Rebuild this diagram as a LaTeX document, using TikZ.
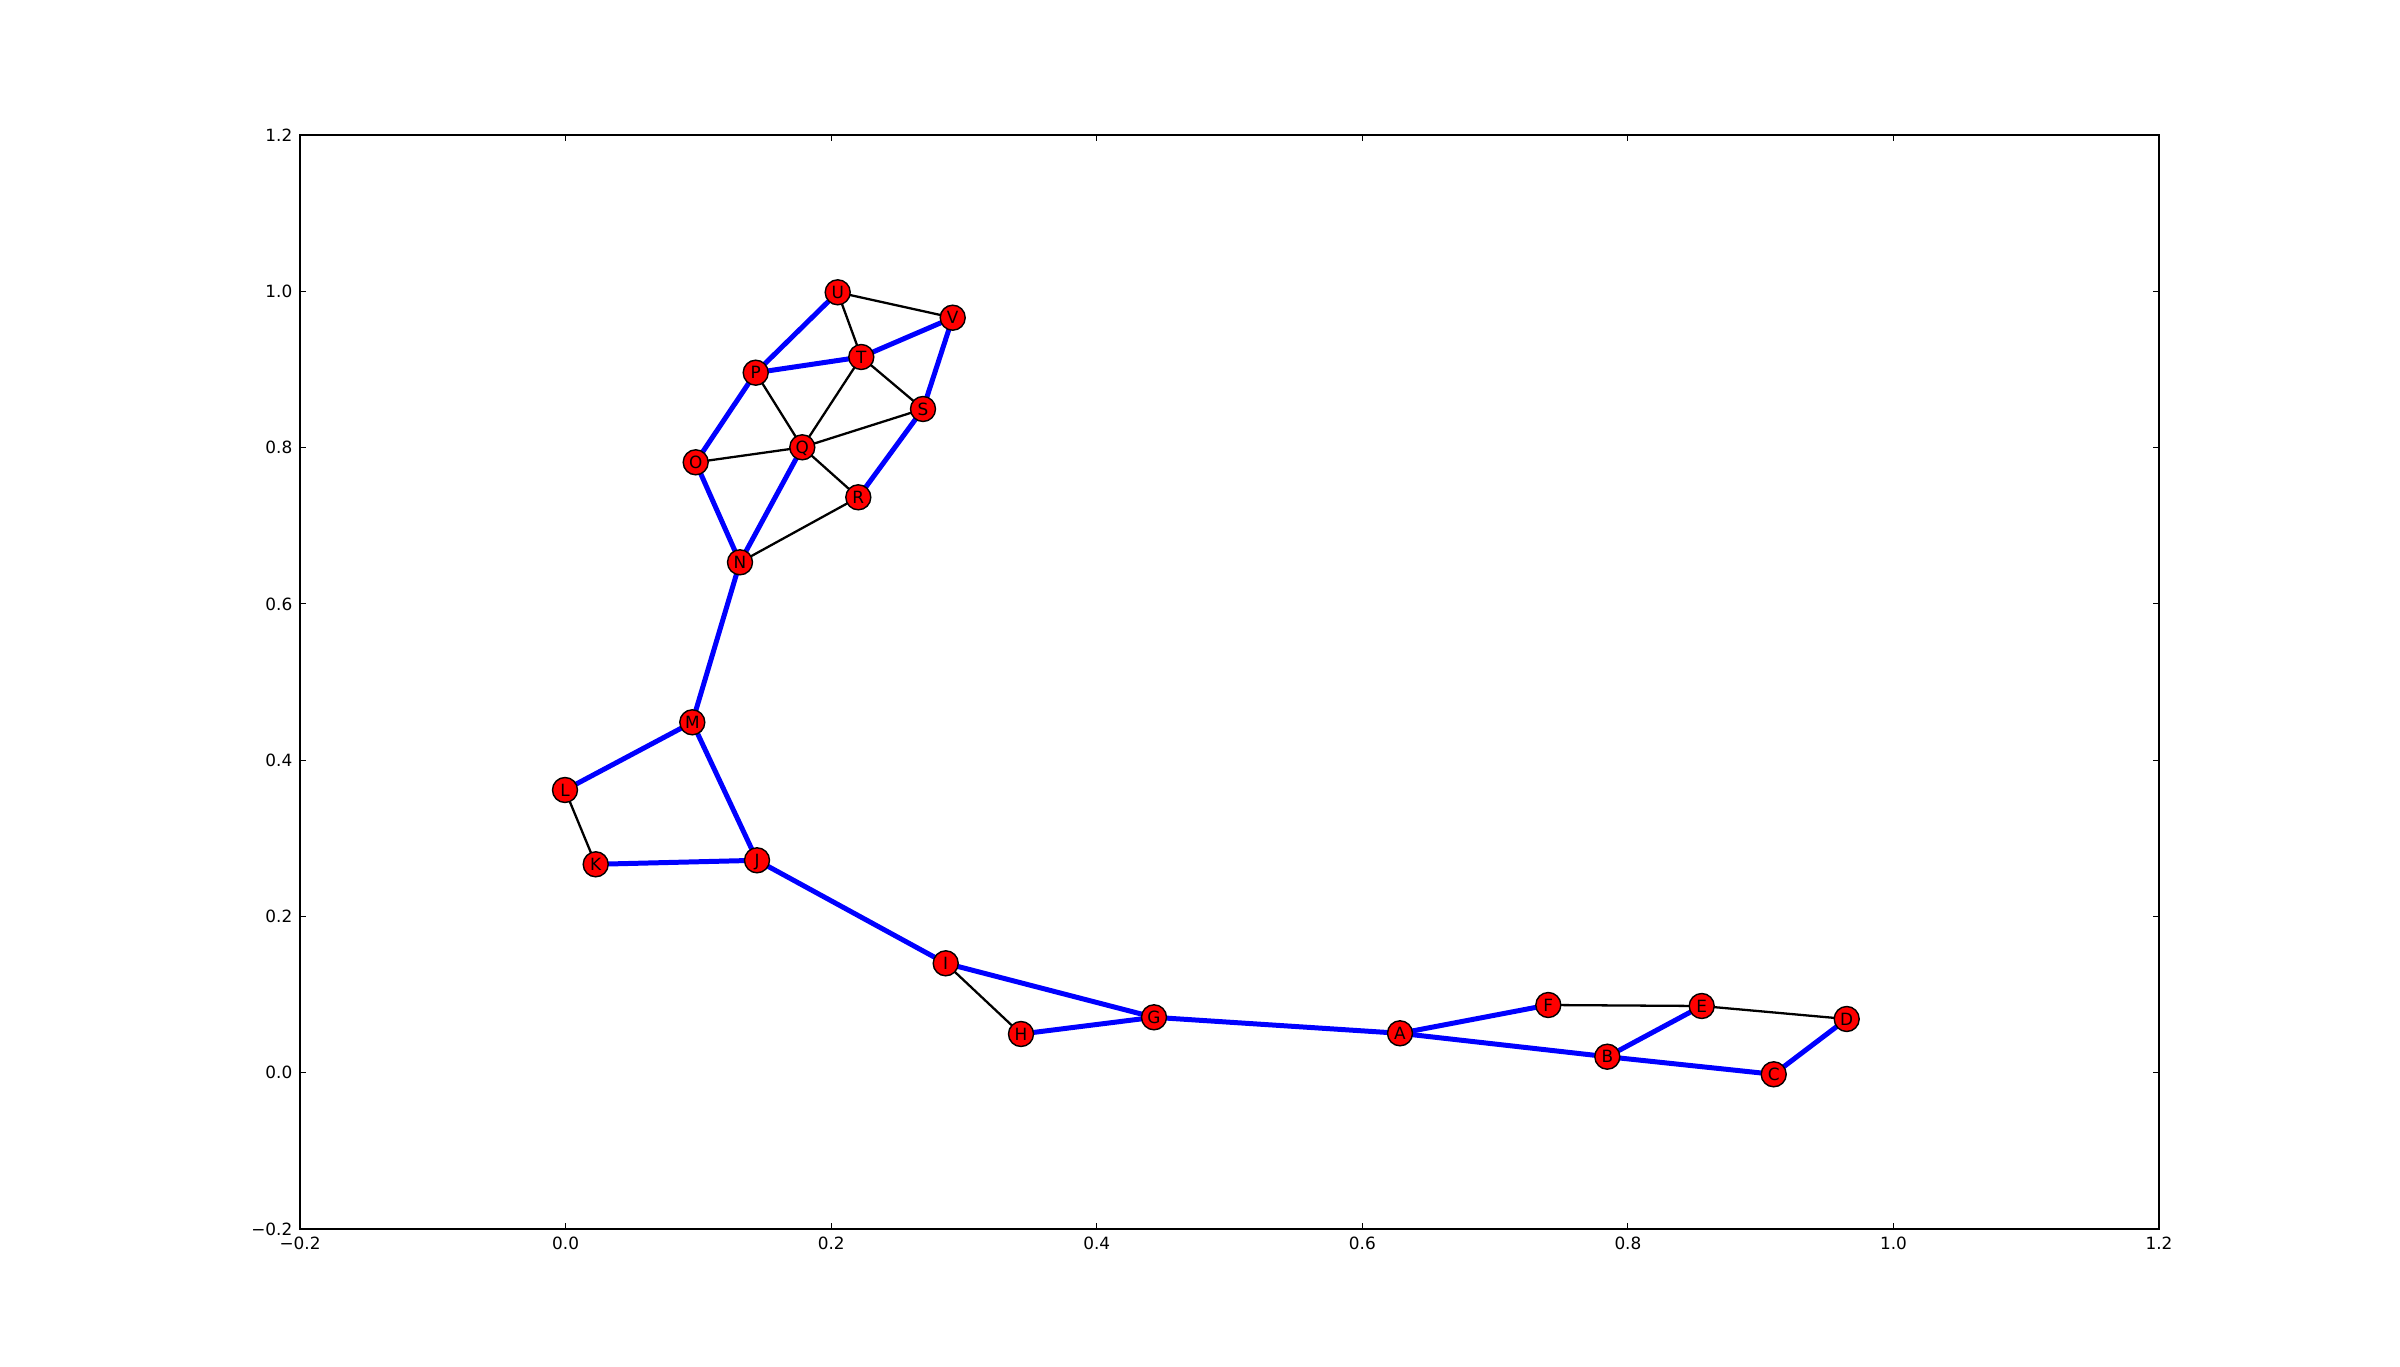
\documentclass[tikz,border=0pt]{standalone}
\usepackage{fontspec}
\setmainfont{DejaVu Sans}
\begin{document}
\begin{tikzpicture}[x=0.01cm,y=-0.01cm,
  vtx/.style={circle,draw=black,line width=0.4pt,fill=red,minimum size=0.25cm,inner sep=0pt,
    font=\fontsize{4.8}{5.8}\selectfont,text height=0.123cm,text depth=0pt},
  tree/.style={draw=blue,line width=1.42pt},
  other/.style={draw=black,line width=0.65pt},
  ticklab/.style={inner sep=0pt,font=\fontsize{4.8}{5.8}\selectfont,text height=0.123cm,text depth=0pt}]
\useasboundingbox (0,0) rectangle (2400,1367);
\fill[white] (0,0) rectangle (2400,1367);
% axes frame
\draw[line width=0.55pt] (300,135) rectangle (2159,1229);
% ticks
\foreach \xx/\lab in {300/{−0.2},565.6/{0.0},831.2/{0.2},1096.8/{0.4},1362.3/{0.6},1627.9/{0.8},1893.5/{1.0},2159/{1.2}}{
  \draw[line width=0.3pt] (\xx,1229) -- (\xx,1223);
  \draw[line width=0.3pt] (\xx,135) -- (\xx,141);
  \node[ticklab,anchor=north] at (\xx,1236) {\lab};
}
\foreach \yy/\lab in {1229/{−0.2},1072.7/{0.0},916.4/{0.2},760.2/{0.4},603.9/{0.6},447.6/{0.8},291.3/{1.0},135/{1.2}}{
  \draw[line width=0.3pt] (300,\yy) -- (306,\yy);
  \draw[line width=0.3pt] (2159,\yy) -- (2153,\yy);
  \node[ticklab,anchor=east] at (293,\yy) {\lab};
}
% node positions
\coordinate (pA) at (1400,1033.3);
\coordinate (pB) at (1607.3,1056.7);
\coordinate (pC) at (1773.7,1074.3);
\coordinate (pD) at (1846.7,1019);
\coordinate (pE) at (1701.7,1006);
\coordinate (pF) at (1548.3,1005);
\coordinate (pG) at (1154,1017.3);
\coordinate (pH) at (1021,1034);
\coordinate (pI) at (945.7,963.3);
\coordinate (pJ) at (757,860.3);
\coordinate (pK) at (595.7,864.3);
\coordinate (pL) at (565,790);
\coordinate (pM) at (692.3,722.3);
\coordinate (pN) at (740,562.3);
\coordinate (pO) at (695.7,462.3);
\coordinate (pP) at (755.7,372.7);
\coordinate (pQ) at (802.3,447.3);
\coordinate (pR) at (858.3,497.3);
\coordinate (pS) at (923,409);
\coordinate (pT) at (861.3,357);
\coordinate (pU) at (837.7,292.3);
\coordinate (pV) at (952.7,317.7);
% black edges
\foreach \a/\b in {U/T,U/V,T/S,T/Q,P/Q,O/Q,Q/S,Q/R,R/N,L/K,I/H,F/E,E/D}
  \draw[other] (p\a) -- (p\b);
% blue edges
\foreach \a/\b in {U/P,P/T,T/V,V/S,S/R,P/O,O/N,N/Q,N/M,M/L,M/J,K/J,J/I,I/G,H/G,G/A,A/F,A/B,B/E,B/C,C/D}
  \draw[tree] (p\a) -- (p\b);
% nodes
\foreach \n in {A,B,C,D,E,F,G,H,I,J,K,L,M,N,O,P,Q,R,S,T,U,V}
  \node[vtx] (\n) at (p\n) {\n};
\end{tikzpicture}
\end{document}
